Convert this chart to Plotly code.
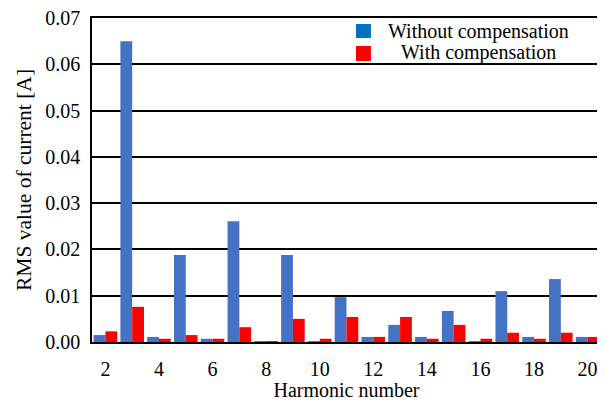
import plotly.graph_objects as go

harmonics = list(range(2, 21))
without_comp = [0.0015, 0.0650, 0.0011, 0.0188, 0.0007, 0.0261, 0.0002, 0.0188, 0.0002, 0.0097,
                0.0011, 0.0037, 0.0011, 0.0067, 0.0002, 0.0110, 0.0011, 0.0136, 0.0011]
with_comp = [0.0023, 0.0076, 0.0007, 0.0015, 0.0007, 0.0032, 0.0002, 0.0050, 0.0007, 0.0054,
             0.0011, 0.0054, 0.0007, 0.0037, 0.0007, 0.0020, 0.0007, 0.0020, 0.0011]
series_names = ["Without compensation", "With compensation"]
series_colors = ["#4472C4", "#FF0000"]
x_ticks = list(range(2, 21, 2))
y_ticks = [0.00, 0.01, 0.02, 0.03, 0.04, 0.05, 0.06, 0.07]

font = "Liberation Serif, Times New Roman, Times, serif"

fig = go.Figure()
for vals, name, col in zip([without_comp, with_comp], series_names, series_colors):
    fig.add_trace(go.Bar(x=harmonics, y=vals, name=name, showlegend=False,
                         marker=dict(color=col, line=dict(width=0))))

# legend drawn in the upper right of the plot (squares + centred labels)
leg_rows = [(0.9815, 0.938, 0.9568), (0.9136, 0.8673, 0.892)]
leg_colors = ["#0070C0", "#FF0000"]
for (y0, y1, yt), name, col in zip(leg_rows, series_names, leg_colors):
    fig.add_shape(type="rect", xref="paper", yref="paper", x0=0.5187, x1=0.548,
                  y0=y1, y1=y0, fillcolor=col, line=dict(width=0), layer="above")
    fig.add_annotation(xref="paper", yref="paper", x=0.7594, y=yt, text=name,
                       showarrow=False, xanchor="center", yanchor="middle",
                       font=dict(family=font, size=20, color="black"))

fig.update_layout(
    width=597, height=393,
    margin=dict(l=84, r=4, t=10, b=59, autoexpand=False),
    paper_bgcolor="white", plot_bgcolor="white",
    barmode="group", bargap=0.12, bargroupgap=0,
    font=dict(family=font, size=20, color="black"),
    showlegend=False,
)
fig.update_xaxes(
    range=[1.5, 20.5], tickvals=x_ticks, ticktext=[str(v) for v in x_ticks],
    tickfont=dict(family=font, size=20),
    title=dict(text="Harmonic number", standoff=3, font=dict(family=font, size=20)),
    showline=True, linecolor="black", linewidth=1.5, mirror=True,
    showgrid=False, ticks="", ticklabelstandoff=8, automargin=False,
    ticklabeloverflow="allow",
)
fig.update_yaxes(
    range=[0, 0.07001], tickvals=y_ticks, ticktext=[f"{v:.2f}" for v in y_ticks],
    tickfont=dict(family=font, size=20),
    title=dict(text="RMS value of current [A]", standoff=8, font=dict(family=font, size=21.5)),
    showline=True, linecolor="black", linewidth=1.5, mirror=True,
    showgrid=True, gridcolor="black", gridwidth=1.5, zeroline=False,
    ticks="", ticklabelstandoff=6, automargin=False, ticklabeloverflow="allow",
)
fig.write_html("out.html")
